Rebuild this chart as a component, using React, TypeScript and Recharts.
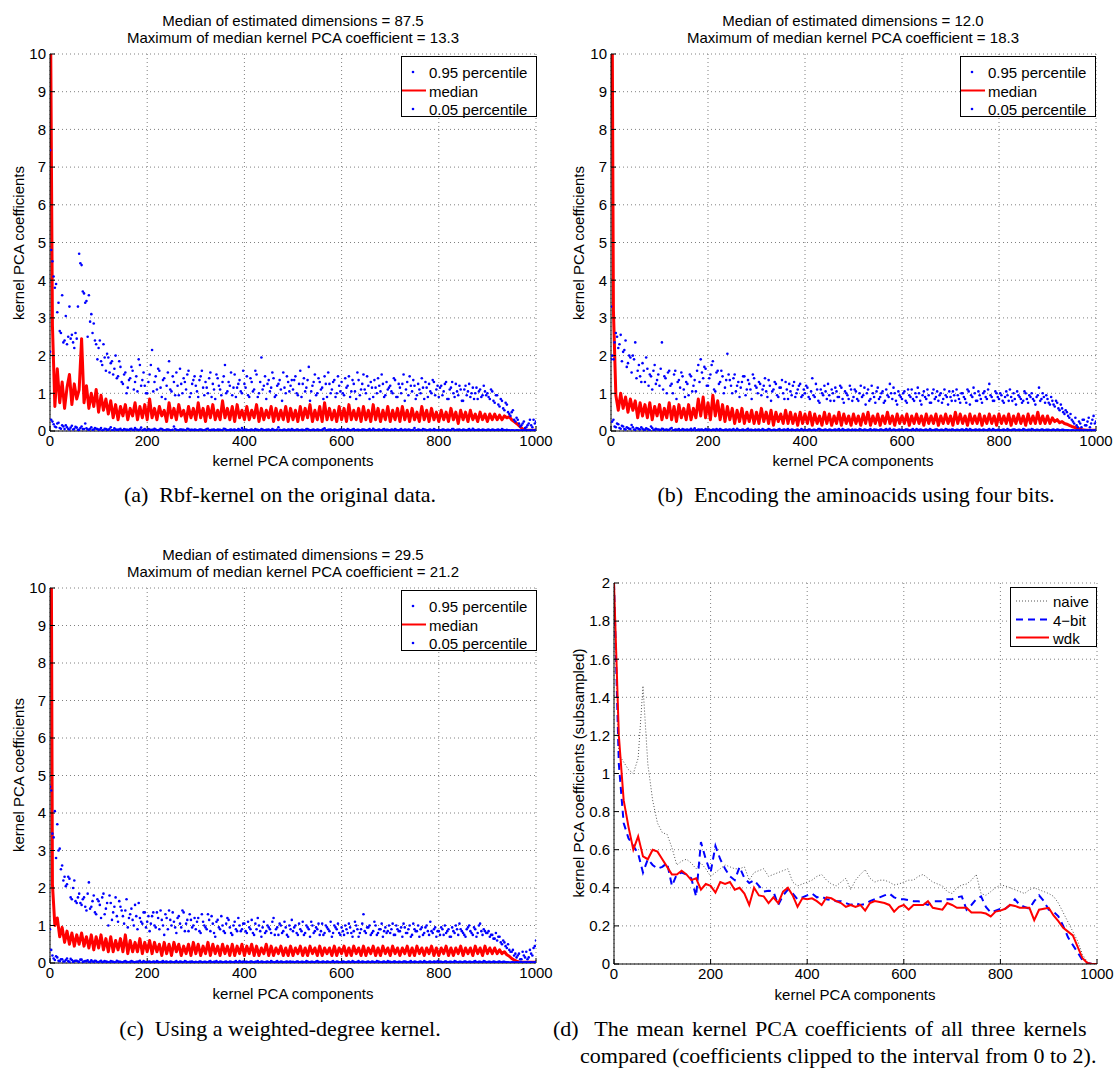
import React from 'react';
import { ComposedChart, Line, Scatter, XAxis, YAxis, CartesianGrid } from 'recharts';

const SANS = '"Liberation Sans", Arial, Helvetica, sans-serif';
const SERIF = '"Liberation Serif", "Times New Roman", Times, serif';

// ---------- axes / ticks ----------
const componentStep = 5; // spacing of the plotted samples (panels a-c)
const halfOffset = 2.5; // the "odd" sample set sits halfway between
const subStep = 10; // subsampling step of panel d
const xTicks = [0, 200, 400, 600, 800, 1000];
const yTicksCoef = [0, 1, 2, 3, 4, 5, 6, 7, 8, 9, 10];
const yTicksSub = [0, 0.2, 0.4, 0.6, 0.8, 1, 1.2, 1.4, 1.6, 1.8, 2];

// ---------- panel (a): Rbf-kernel on the original data ----------
const medA = [
  13.3, 2.8, 0.65, 1.65, 0.75, 1.3, 0.6, 1.15, 1.5, 0.7, 1.25, 0.85, 1.1, 2.45, 0.75, 1.2, 0.6, 1.0, 0.65, 1.1,
  0.5, 0.95, 0.55, 0.85, 0.45, 0.8, 0.35, 0.7, 0.3, 0.65, 0.4, 0.7, 0.3, 0.6, 0.4, 0.75, 0.3, 0.65, 0.35, 0.7,
  0.3, 0.85, 0.35, 0.6, 0.3, 0.65, 0.4, 0.55, 0.25, 0.75, 0.35, 0.6, 0.3, 0.7, 0.4, 0.55, 0.25, 0.65, 0.35, 0.6,
  0.3, 0.75, 0.35, 0.6, 0.25, 0.65, 0.35, 0.7, 0.3, 0.55, 0.3, 0.8, 0.35, 0.6, 0.3, 0.65, 0.25, 0.7, 0.35, 0.55,
  0.3, 0.65, 0.3, 0.55, 0.35, 0.7, 0.25, 0.6, 0.3, 0.55, 0.35, 0.65, 0.25, 0.6, 0.3, 0.55, 0.3, 0.65, 0.25, 0.6,
  0.3, 0.55, 0.25, 0.65, 0.3, 0.6, 0.35, 0.7, 0.25, 0.55, 0.3, 0.65, 0.25, 0.75, 0.3, 0.6, 0.3, 0.55, 0.25, 0.65,
  0.3, 0.6, 0.25, 0.7, 0.3, 0.55, 0.3, 0.6, 0.25, 0.65, 0.3, 0.55, 0.25, 0.7, 0.3, 0.6, 0.25, 0.55, 0.3, 0.65,
  0.25, 0.55, 0.3, 0.6, 0.25, 0.65, 0.3, 0.55, 0.25, 0.6, 0.3, 0.5, 0.25, 0.65, 0.3, 0.55, 0.25, 0.6, 0.3, 0.5,
  0.25, 0.55, 0.3, 0.5, 0.25, 0.6, 0.3, 0.5, 0.2, 0.55, 0.3, 0.5, 0.25, 0.55, 0.3, 0.45, 0.25, 0.5, 0.3, 0.45,
  0.25, 0.45, 0.3, 0.45, 0.3, 0.42, 0.3, 0.4, 0.35, 0.38, 0.3, 0.25, 0.2, 0.14, 0.08, 0.03, 0.02, 0.02, 0.02, 0.02,
  0.02,
];
const p95A = [
  7.45, 4.5, 3.8, 3.15, 2.65, 3.6, 2.4, 2.3, 3.3, 2.55, 2.2, 2.45, 4.7, 4.4, 3.65, 3.45, 3.6, 3.1, 2.85, 2.3,
  2.2, 1.85, 2.3, 1.6, 1.95, 1.8, 1.5, 2.0, 1.45, 1.7, 1.25, 1.55, 1.15, 1.4, 1.6, 1.3, 1.05, 1.75, 1.35, 1.2,
  1.0, 1.5, 2.15, 1.3, 1.1, 1.6, 0.9, 1.4, 1.2, 1.85, 1.05, 1.3, 1.55, 0.95, 1.25, 1.4, 1.1, 1.6, 1.0, 1.35,
  1.2, 0.9, 1.45, 1.15, 1.3, 1.0, 1.55, 1.25, 0.85, 1.4, 1.1, 1.3, 1.75, 1.05, 1.2, 0.95, 1.5, 1.15, 1.35, 1.0,
  1.25, 1.45, 0.9, 1.3, 1.1, 1.5, 1.0, 1.95, 1.2, 0.85, 1.35, 1.15, 1.4, 0.95, 1.25, 1.1, 1.55, 1.0, 1.3, 1.2,
  1.1, 1.45, 0.95, 1.6, 1.25, 1.05, 1.35, 0.8, 1.2, 1.5, 1.0, 1.3, 1.15, 1.45, 0.9, 1.25, 1.1, 1.35, 1.0, 1.2,
  1.3, 0.95, 1.15, 1.45, 1.05, 1.25, 0.85, 1.35, 1.1, 1.5, 1.0, 1.2, 1.3, 0.9, 1.15, 1.4, 1.05, 1.25, 0.95, 1.1,
  1.2, 1.0, 1.35, 0.9, 1.15, 1.25, 0.8, 1.3, 1.45, 1.05, 1.2, 0.95, 1.1, 1.4, 0.85, 1.15, 1.25, 1.0, 1.3, 1.1,
  0.9, 1.2, 1.05, 1.3, 0.85, 1.15, 1.0, 1.25, 0.95, 1.1, 0.8, 1.2, 1.05, 0.9, 1.15, 1.0, 0.85, 1.1, 0.95, 1.05,
  1.0, 0.85, 1.05, 0.75, 0.95, 0.65, 0.8, 0.55, 0.7, 0.45, 0.5, 0.3, 0.35, 0.2, 0.15, 0.25, 0.1, 0.2, 0.15, 0.3,
  0.25,
];
const p95AOdd = [
  4.8, 4.1, 3.9, 3.4, 2.6, 2.35, 3.05, 2.5, 2.45, 2.35, 2.6, 3.3, 4.45, 3.7, 3.4, 2.5, 2.9, 2.6, 2.4, 1.9,
  2.4, 1.75, 1.95, 2.05, 1.55, 1.85, 1.65, 1.4, 1.85, 1.3, 1.5, 1.0, 1.35, 1.7, 1.1, 1.45, 1.9, 1.2, 1.55, 1.0,
  1.3, 1.75, 1.05, 1.45, 1.65, 1.15, 1.35, 0.85, 1.55, 1.1, 1.45, 0.95, 1.2, 1.65, 1.0, 1.3, 1.5, 0.9, 1.25, 1.45,
  1.05, 1.35, 1.6, 0.95, 1.15, 1.4, 0.9, 1.1, 1.5, 1.2, 0.95, 1.45, 1.0, 1.3, 1.55, 1.15, 0.9, 1.25, 1.05, 1.6,
  1.15, 0.95, 1.4, 1.05, 1.6, 0.9, 1.3, 1.1, 1.45, 1.25, 1.05, 1.55, 0.9, 1.2, 1.35, 0.8, 1.15, 1.45, 1.05, 1.35,
  1.35, 1.0, 1.25, 0.9, 1.4, 1.15, 1.7, 1.05, 1.3, 0.95, 1.4, 1.1, 0.85, 1.25, 1.55, 1.0, 1.3, 0.9, 1.45, 1.05,
  1.0, 1.4, 1.2, 0.9, 1.35, 1.05, 1.55, 0.95, 1.25, 1.1, 1.45, 0.85, 1.15, 1.35, 1.0, 1.2, 1.5, 0.9, 1.3, 1.15,
  1.05, 1.4, 0.9, 1.25, 1.0, 1.5, 1.1, 0.95, 1.2, 1.35, 0.85, 1.25, 1.0, 1.15, 1.3, 0.9, 1.05, 1.35, 0.95, 1.2,
  1.15, 0.95, 1.25, 0.85, 1.1, 1.3, 0.9, 1.05, 1.2, 0.8, 1.1, 0.95, 1.25, 1.0, 0.85, 1.15, 1.05, 0.9, 1.2, 0.95,
  0.9, 1.1, 0.8, 0.95, 0.7, 0.85, 0.6, 0.75, 0.5, 0.4, 0.55, 0.25, 0.3, 0.12, 0.2, 0.08, 0.15, 0.3, 0.1, 0.2,
];
const p05A = [
  2.1, 0.25, 0.12, 0.2, 0.08, 0.15, 0.05, 0.1, 0.04, 0.14, 0.06, 0.09, 0.03, 0.12, 0.05, 0.07, 0.03, 0.1, 0.04, 0.06,
  0.03, 0.08, 0.02, 0.05, 0.03, 0.1, 0.02, 0.04, 0.03, 0.06, 0.02, 0.04, 0.03, 0.05, 0.02, 0.08, 0.03, 0.04, 0.02, 0.05,
  0.02, 0.04, 0.03, 0.06, 0.02, 0.03, 0.05, 0.02, 0.04, 0.03, 0.02, 0.12, 0.03, 0.02, 0.04, 0.03, 0.02, 0.05, 0.03, 0.02,
  0.03, 0.02, 0.04, 0.02, 0.03, 0.06, 0.02, 0.03, 0.02, 0.04, 0.03, 0.02, 0.05, 0.02, 0.03, 0.02, 0.04, 0.02, 0.03, 0.08,
  0.02, 0.03, 0.02, 0.04, 0.02, 0.03, 0.02, 0.05, 0.02, 0.03, 0.04, 0.02, 0.03, 0.02, 0.1, 0.02, 0.03, 0.02, 0.04, 0.02,
  0.03, 0.02, 0.04, 0.02, 0.03, 0.02, 0.05, 0.02, 0.03, 0.02, 0.04, 0.02, 0.03, 0.07, 0.02, 0.03, 0.02, 0.04, 0.02, 0.03,
  0.02, 0.04, 0.02, 0.03, 0.02, 0.05, 0.02, 0.03, 0.02, 0.04, 0.02, 0.03, 0.02, 0.06, 0.02, 0.03, 0.02, 0.04, 0.02, 0.03,
  0.02, 0.03, 0.05, 0.02, 0.03, 0.02, 0.04, 0.02, 0.03, 0.02, 0.08, 0.02, 0.03, 0.02, 0.04, 0.02, 0.03, 0.02, 0.05, 0.02,
  0.03, 0.02, 0.04, 0.02, 0.03, 0.02, 0.05, 0.02, 0.03, 0.02, 0.04, 0.02, 0.03, 0.02, 0.06, 0.02, 0.03, 0.02, 0.04, 0.02,
  0.03, 0.02, 0.04, 0.02, 0.03, 0.02, 0.05, 0.02, 0.03, 0.02, 0.02, 0.01, 0.02, 0.01, 0.02, 0.01, 0.02, 0.01, 0.02, 0.01,
  0.01,
];
const p05AOdd = [
  0.3, 0.18, 0.1, 0.22, 0.06, 0.12, 0.15, 0.05, 0.09, 0.04, 0.11, 0.03, 0.08, 0.05, 0.2, 0.04, 0.06, 0.03, 0.08, 0.05,
  0.04, 0.02, 0.06, 0.03, 0.05, 0.02, 0.07, 0.03, 0.04, 0.02, 0.05, 0.03, 0.02, 0.06, 0.03, 0.04, 0.02, 0.09, 0.03, 0.02,
  0.05, 0.02, 0.03, 0.04, 0.02, 0.06, 0.03, 0.02, 0.04, 0.02, 0.03, 0.05, 0.02, 0.04, 0.03, 0.02, 0.06, 0.02, 0.03, 0.04,
  0.02, 0.04, 0.03, 0.02, 0.05, 0.02, 0.03, 0.04, 0.02, 0.03, 0.02, 0.06, 0.03, 0.02, 0.04, 0.03, 0.02, 0.05, 0.02, 0.03,
  0.04, 0.02, 0.03, 0.02, 0.05, 0.03, 0.02, 0.04, 0.02, 0.03, 0.02, 0.05, 0.02, 0.04, 0.03, 0.02, 0.04, 0.02, 0.03, 0.05,
  0.02, 0.04, 0.02, 0.03, 0.02, 0.05, 0.03, 0.02, 0.04, 0.02, 0.03, 0.02, 0.05, 0.02, 0.03, 0.04, 0.02, 0.03, 0.02, 0.04,
  0.03, 0.02, 0.05, 0.02, 0.04, 0.02, 0.03, 0.02, 0.04, 0.03, 0.02, 0.05, 0.02, 0.03, 0.02, 0.04, 0.02, 0.05, 0.03, 0.02,
  0.04, 0.02, 0.03, 0.02, 0.05, 0.02, 0.03, 0.04, 0.02, 0.03, 0.02, 0.04, 0.02, 0.05, 0.03, 0.02, 0.04, 0.02, 0.03, 0.02,
  0.02, 0.04, 0.02, 0.03, 0.02, 0.05, 0.02, 0.03, 0.04, 0.02, 0.03, 0.02, 0.05, 0.02, 0.03, 0.02, 0.04, 0.02, 0.03, 0.02,
  0.04, 0.02, 0.03, 0.02, 0.04, 0.02, 0.03, 0.02, 0.02, 0.01, 0.02, 0.01, 0.02, 0.01, 0.02, 0.01, 0.01, 0.02, 0.01, 0.02,
];

// ---------- panel (b): four-bit encoding ----------
const medB = [
  18.3, 3.2, 0.95, 0.55, 1.0, 0.6, 0.9, 0.5, 0.85, 0.55, 0.8, 0.35, 0.75, 0.4, 0.7, 0.35, 0.75, 0.3, 0.65, 0.4,
  0.7, 0.3, 0.6, 0.35, 0.75, 0.3, 0.65, 0.25, 0.7, 0.35, 0.6, 0.3, 0.7, 0.3, 0.6, 0.35, 0.85, 0.4, 0.9, 0.35,
  0.75, 0.3, 0.95, 0.4, 0.8, 0.3, 0.7, 0.25, 0.65, 0.3, 0.6, 0.2, 0.55, 0.25, 0.6, 0.2, 0.5, 0.25, 0.55, 0.2,
  0.5, 0.2, 0.6, 0.25, 0.5, 0.2, 0.55, 0.15, 0.5, 0.25, 0.45, 0.2, 0.55, 0.2, 0.5, 0.2, 0.45, 0.15, 0.5, 0.2,
  0.45, 0.2, 0.5, 0.15, 0.45, 0.2, 0.4, 0.15, 0.5, 0.2, 0.45, 0.15, 0.4, 0.2, 0.5, 0.15, 0.45, 0.2, 0.4, 0.15,
  0.45, 0.2, 0.4, 0.15, 0.45, 0.2, 0.5, 0.15, 0.4, 0.2, 0.45, 0.15, 0.4, 0.2, 0.5, 0.2, 0.4, 0.15, 0.45, 0.2,
  0.4, 0.2, 0.45, 0.15, 0.4, 0.2, 0.45, 0.2, 0.4, 0.15, 0.45, 0.2, 0.4, 0.2, 0.45, 0.15, 0.4, 0.2, 0.45, 0.2,
  0.4, 0.15, 0.5, 0.2, 0.45, 0.2, 0.4, 0.15, 0.45, 0.2, 0.4, 0.2, 0.45, 0.15, 0.4, 0.2, 0.45, 0.2, 0.4, 0.15,
  0.45, 0.2, 0.4, 0.2, 0.45, 0.15, 0.4, 0.2, 0.45, 0.2, 0.4, 0.15, 0.45, 0.2, 0.4, 0.2, 0.5, 0.2, 0.4, 0.2,
  0.4, 0.2, 0.35, 0.25, 0.3, 0.22, 0.25, 0.2, 0.18, 0.15, 0.12, 0.1, 0.08, 0.06, 0.04, 0.03, 0.02, 0.02, 0.02, 0.02,
  0.02,
];
const p95B = [
  3.3, 1.9, 2.6, 2.2, 2.55, 2.1, 2.4, 1.8, 1.95, 2.0, 2.35, 1.6, 1.45, 1.8, 1.3, 1.65, 1.5, 1.1, 1.75, 1.35,
  1.2, 2.35, 1.45, 1.0, 1.6, 1.25, 1.5, 0.85, 1.35, 1.55, 1.1, 1.3, 0.95, 1.45, 1.2, 1.05, 1.75, 1.9, 1.4, 1.65,
  1.2, 1.5, 1.85, 1.05, 1.6, 1.3, 1.45, 1.15, 2.05, 1.35, 1.0, 1.5, 1.2, 0.9, 1.3, 1.45, 1.1, 1.25, 0.85, 1.4,
  1.15, 1.3, 0.95, 1.2, 1.05, 1.35, 0.8, 1.1, 1.25, 0.9, 1.15, 1.0, 1.3, 0.85, 1.05, 1.2, 0.9, 1.1, 1.25, 0.95,
  1.0, 1.15, 0.85, 1.4, 0.9, 1.1, 0.75, 1.0, 1.2, 0.85, 0.95, 1.1, 0.8, 1.05, 0.9, 1.15, 0.75, 1.0, 0.85, 1.1,
  0.9, 1.05, 0.8, 1.2, 0.95, 0.7, 1.1, 0.85, 1.0, 0.75, 1.15, 0.9, 1.05, 0.8, 0.95, 1.25, 0.85, 1.0, 0.7, 0.95,
  0.85, 1.05, 0.75, 0.95, 1.1, 0.8, 0.9, 1.0, 0.7, 1.05, 0.85, 0.95, 0.75, 1.1, 0.9, 0.8, 1.0, 0.85, 0.95, 0.7,
  0.9, 1.05, 0.8, 0.95, 0.75, 1.0, 0.85, 1.1, 0.7, 0.9, 1.0, 0.8, 0.95, 0.75, 1.05, 0.85, 1.25, 0.9, 0.8, 1.0,
  0.85, 0.95, 0.75, 1.05, 0.8, 0.9, 1.0, 0.7, 0.95, 0.85, 0.8, 1.0, 0.75, 0.9, 0.85, 0.7, 0.95, 0.8, 1.0, 0.75,
  0.85, 0.7, 0.8, 0.65, 0.75, 0.55, 0.6, 0.45, 0.5, 0.35, 0.3, 0.2, 0.15, 0.25, 0.1, 0.3, 0.15, 0.35, 0.2, 0.4,
  0.25,
];
const p95BOdd = [
  2.0, 2.35, 2.5, 2.3, 1.85, 2.15, 1.7, 2.0, 1.55, 1.9, 1.4, 1.75, 1.3, 1.6, 1.95, 1.2, 1.45, 1.6, 1.25, 1.5,
  1.65, 1.1, 1.4, 1.55, 1.2, 1.0, 1.6, 1.3, 1.15, 1.45, 0.9, 1.25, 1.5, 1.05, 1.35, 1.6, 1.3, 1.55, 1.7, 1.2,
  1.4, 1.75, 1.1, 1.55, 1.25, 1.6, 1.0, 1.35, 1.5, 1.2, 1.4, 1.05, 1.3, 1.15, 1.45, 0.95, 1.35, 1.1, 1.5, 1.2,
  1.0, 1.25, 1.1, 1.4, 0.9, 1.2, 1.05, 1.3, 0.95, 1.15, 1.35, 0.85, 1.1, 1.25, 0.95, 1.3, 1.0, 1.2, 0.9, 1.1,
  1.2, 0.9, 1.05, 0.95, 1.25, 0.8, 1.1, 0.95, 1.05, 1.25, 0.8, 1.0, 1.15, 0.9, 1.2, 0.85, 1.05, 0.95, 1.2, 0.8,
  1.1, 0.85, 1.0, 0.9, 1.15, 1.0, 0.8, 1.2, 0.9, 1.05, 0.85, 1.0, 0.75, 1.1, 0.9, 1.0, 1.15, 0.8, 1.05, 0.9,
  1.0, 0.8, 1.1, 0.9, 0.85, 1.0, 1.15, 0.8, 0.95, 0.9, 1.1, 0.75, 1.0, 0.85, 1.05, 0.95, 0.75, 1.1, 0.9, 1.05,
  0.8, 0.95, 1.1, 0.85, 1.0, 0.9, 0.75, 1.05, 0.95, 1.15, 0.8, 1.05, 0.85, 1.0, 0.9, 1.1, 0.95, 0.8, 1.05, 0.9,
  1.0, 0.8, 0.9, 0.95, 1.1, 0.8, 0.85, 1.05, 0.9, 0.75, 1.05, 0.85, 0.95, 1.0, 0.8, 0.9, 1.15, 0.85, 0.9, 0.95,
  0.75, 0.9, 0.7, 0.8, 0.6, 0.7, 0.5, 0.55, 0.4, 0.45, 0.25, 0.35, 0.1, 0.2, 0.3, 0.15, 0.25, 0.1, 0.3, 0.2,
];
const p05B = [
  1.9, 0.3, 0.1, 0.18, 0.06, 0.12, 0.04, 0.08, 0.05, 0.1, 0.03, 0.07, 0.04, 0.06, 0.03, 0.05, 0.02, 0.08, 0.03, 0.04,
  0.03, 0.06, 0.02, 0.04, 0.03, 0.08, 0.02, 0.03, 0.05, 0.02, 0.04, 0.03, 0.02, 0.06, 0.03, 0.02, 0.04, 0.03, 0.02, 0.05,
  0.03, 0.02, 0.04, 0.02, 0.03, 0.05, 0.02, 0.03, 0.02, 0.04, 0.03, 0.02, 0.06, 0.02, 0.03, 0.02, 0.04, 0.02, 0.03, 0.02,
  0.02, 0.04, 0.02, 0.03, 0.02, 0.05, 0.02, 0.03, 0.02, 0.04, 0.02, 0.03, 0.02, 0.05, 0.02, 0.03, 0.02, 0.04, 0.02, 0.03,
  0.03, 0.02, 0.04, 0.02, 0.03, 0.02, 0.05, 0.02, 0.03, 0.02, 0.04, 0.02, 0.03, 0.02, 0.05, 0.02, 0.03, 0.02, 0.04, 0.02,
  0.02, 0.03, 0.02, 0.04, 0.02, 0.03, 0.02, 0.05, 0.02, 0.03, 0.02, 0.04, 0.02, 0.03, 0.02, 0.06, 0.02, 0.03, 0.02, 0.04,
  0.03, 0.02, 0.04, 0.02, 0.03, 0.02, 0.05, 0.02, 0.03, 0.02, 0.04, 0.02, 0.03, 0.02, 0.04, 0.02, 0.03, 0.02, 0.05, 0.02,
  0.02, 0.04, 0.02, 0.03, 0.02, 0.04, 0.02, 0.03, 0.05, 0.02, 0.03, 0.02, 0.04, 0.02, 0.03, 0.02, 0.05, 0.02, 0.03, 0.02,
  0.03, 0.02, 0.04, 0.02, 0.03, 0.02, 0.04, 0.02, 0.03, 0.02, 0.05, 0.02, 0.03, 0.02, 0.04, 0.02, 0.03, 0.02, 0.04, 0.02,
  0.03, 0.02, 0.03, 0.02, 0.04, 0.02, 0.03, 0.02, 0.02, 0.01, 0.02, 0.01, 0.02, 0.01, 0.02, 0.01, 0.02, 0.01, 0.02, 0.01,
  0.01,
];
const p05BOdd = [
  0.25, 0.12, 0.2, 0.08, 0.14, 0.05, 0.1, 0.06, 0.16, 0.04, 0.08, 0.05, 0.1, 0.03, 0.07, 0.04, 0.12, 0.03, 0.06, 0.04,
  0.02, 0.05, 0.03, 0.02, 0.06, 0.02, 0.04, 0.03, 0.02, 0.05, 0.02, 0.04, 0.03, 0.02, 0.07, 0.02, 0.03, 0.04, 0.02, 0.03,
  0.04, 0.02, 0.03, 0.05, 0.02, 0.03, 0.02, 0.04, 0.03, 0.02, 0.05, 0.02, 0.03, 0.02, 0.04, 0.02, 0.06, 0.03, 0.02, 0.04,
  0.03, 0.02, 0.05, 0.02, 0.03, 0.04, 0.02, 0.03, 0.02, 0.05, 0.02, 0.04, 0.03, 0.02, 0.04, 0.02, 0.03, 0.02, 0.05, 0.02,
  0.02, 0.04, 0.02, 0.03, 0.02, 0.05, 0.03, 0.02, 0.04, 0.02, 0.03, 0.02, 0.04, 0.03, 0.02, 0.05, 0.02, 0.03, 0.02, 0.04,
  0.03, 0.02, 0.05, 0.02, 0.04, 0.02, 0.03, 0.02, 0.04, 0.03, 0.02, 0.04, 0.02, 0.05, 0.03, 0.02, 0.04, 0.02, 0.03, 0.02,
  0.02, 0.04, 0.03, 0.02, 0.05, 0.02, 0.03, 0.04, 0.02, 0.03, 0.02, 0.05, 0.02, 0.03, 0.04, 0.02, 0.03, 0.02, 0.04, 0.03,
  0.04, 0.02, 0.03, 0.02, 0.04, 0.02, 0.05, 0.02, 0.03, 0.02, 0.04, 0.03, 0.02, 0.04, 0.02, 0.03, 0.02, 0.05, 0.02, 0.03,
  0.02, 0.03, 0.02, 0.05, 0.02, 0.03, 0.04, 0.02, 0.03, 0.02, 0.04, 0.02, 0.03, 0.05, 0.02, 0.03, 0.02, 0.04, 0.02, 0.03,
  0.03, 0.02, 0.04, 0.02, 0.03, 0.02, 0.03, 0.02, 0.02, 0.01, 0.02, 0.01, 0.01, 0.02, 0.01, 0.02, 0.01, 0.02, 0.01, 0.02,
];

// ---------- panel (c): weighted-degree kernel ----------
const medC = [
  21.2, 2.1, 1.0, 1.2, 0.7, 0.95, 0.55, 0.85, 0.5, 0.8, 0.45, 0.75, 0.5, 0.8, 0.45, 0.7, 0.4, 0.75, 0.35, 0.7,
  0.4, 0.75, 0.35, 0.65, 0.3, 0.7, 0.3, 0.6, 0.35, 0.65, 0.3, 0.75, 0.25, 0.6, 0.3, 0.55, 0.3, 0.65, 0.25, 0.55,
  0.3, 0.6, 0.25, 0.55, 0.3, 0.5, 0.2, 0.55, 0.25, 0.5, 0.2, 0.55, 0.3, 0.5, 0.2, 0.45, 0.25, 0.5, 0.2, 0.55,
  0.25, 0.5, 0.2, 0.45, 0.25, 0.55, 0.2, 0.5, 0.25, 0.45, 0.2, 0.5, 0.25, 0.45, 0.2, 0.5, 0.2, 0.45, 0.25, 0.5,
  0.2, 0.45, 0.25, 0.5, 0.2, 0.45, 0.2, 0.4, 0.25, 0.5, 0.2, 0.45, 0.2, 0.4, 0.25, 0.45, 0.2, 0.4, 0.2, 0.45,
  0.2, 0.4, 0.25, 0.45, 0.2, 0.4, 0.2, 0.45, 0.25, 0.4, 0.2, 0.45, 0.2, 0.4, 0.25, 0.4, 0.2, 0.45, 0.2, 0.4,
  0.25, 0.45, 0.2, 0.4, 0.2, 0.45, 0.25, 0.4, 0.2, 0.45, 0.2, 0.4, 0.25, 0.45, 0.2, 0.4, 0.2, 0.45, 0.25, 0.4,
  0.2, 0.45, 0.25, 0.4, 0.2, 0.4, 0.25, 0.45, 0.2, 0.4, 0.2, 0.45, 0.25, 0.4, 0.2, 0.4, 0.25, 0.45, 0.2, 0.4,
  0.2, 0.4, 0.25, 0.45, 0.2, 0.4, 0.2, 0.4, 0.25, 0.45, 0.2, 0.4, 0.25, 0.4, 0.2, 0.45, 0.25, 0.4, 0.2, 0.45,
  0.25, 0.4, 0.25, 0.4, 0.25, 0.35, 0.25, 0.3, 0.22, 0.18, 0.12, 0.08, 0.05, 0.03, 0.02, 0.02, 0.02, 0.02, 0.02, 0.02,
  0.02,
];
const p95C = [
  4.7, 3.45, 4.05, 3.7, 3.05, 2.6, 2.3, 2.1, 2.25, 1.7, 2.2, 1.6, 1.85, 1.55, 1.75, 1.4, 2.15, 1.5, 1.8, 1.3,
  1.65, 1.2, 1.85, 1.45, 1.0, 1.6, 1.35, 1.75, 1.1, 1.5, 1.25, 1.4, 0.95, 1.3, 1.15, 1.55, 0.9, 1.2, 1.05, 1.35,
  1.1, 0.85, 1.25, 1.0, 1.35, 0.9, 1.15, 0.75, 1.2, 1.4, 1.0, 1.1, 0.8, 1.25, 0.95, 1.35, 1.05, 0.85, 1.15, 1.0,
  0.9, 1.2, 0.8, 1.1, 0.95, 1.3, 0.85, 1.05, 0.7, 1.15, 0.9, 1.0, 0.8, 1.2, 0.95, 0.75, 1.1, 0.85, 1.0, 0.9,
  1.05, 0.8, 0.95, 1.15, 0.75, 0.9, 1.0, 0.7, 1.1, 0.85, 0.95, 0.8, 1.2, 0.9, 0.75, 1.0, 0.85, 0.95, 0.7, 0.9,
  0.85, 1.0, 0.75, 0.9, 1.1, 0.8, 0.95, 0.7, 1.0, 0.85, 0.9, 0.75, 1.05, 0.8, 0.95, 0.85, 0.7, 1.0, 0.9, 0.8,
  0.95, 0.75, 0.9, 1.05, 0.8, 0.85, 1.0, 0.7, 0.9, 1.3, 0.8, 0.95, 0.75, 0.85, 1.0, 0.8, 0.9, 0.7, 0.95, 0.85,
  0.8, 1.05, 0.75, 0.9, 0.85, 0.7, 0.95, 0.8, 1.0, 0.75, 0.9, 0.85, 0.7, 0.95, 0.8, 1.0, 0.75, 0.85, 0.9, 0.7,
  0.85, 0.95, 0.75, 0.8, 0.9, 0.7, 0.85, 1.0, 0.75, 0.9, 0.8, 0.7, 0.95, 0.85, 0.75, 0.9, 0.8, 1.05, 0.75, 0.85,
  0.8, 0.7, 0.75, 0.65, 0.6, 0.7, 0.5, 0.55, 0.4, 0.35, 0.3, 0.2, 0.15, 0.25, 0.1, 0.2, 0.3, 0.15, 0.25, 0.4,
  0.6,
];
const p95COdd = [
  4.6, 3.35, 2.8, 3.0, 2.5, 2.2, 2.05, 2.3, 1.75, 2.0, 1.65, 1.75, 1.6, 1.7, 1.5, 1.85, 1.45, 1.65, 1.35, 1.7,
  1.55, 1.75, 1.3, 1.6, 1.8, 1.15, 1.5, 1.25, 1.65, 1.4, 1.05, 1.7, 1.2, 1.45, 1.0, 1.25, 1.6, 1.1, 1.35, 0.95,
  1.25, 1.05, 1.35, 0.95, 1.2, 1.4, 1.0, 1.3, 0.9, 1.15, 1.35, 0.95, 1.2, 1.05, 1.4, 0.85, 1.15, 1.3, 0.95, 1.2,
  1.1, 0.85, 1.3, 1.0, 0.9, 1.15, 1.25, 0.8, 1.1, 0.95, 1.25, 0.85, 1.05, 1.15, 0.8, 1.0, 0.9, 1.2, 0.85, 1.05,
  0.85, 1.1, 0.9, 0.8, 1.05, 1.2, 0.85, 0.95, 0.8, 1.0, 0.9, 1.1, 0.75, 0.95, 1.05, 0.8, 1.1, 0.75, 1.0, 1.15,
  0.95, 0.8, 1.05, 0.85, 0.75, 1.0, 0.9, 1.1, 0.8, 0.95, 1.05, 0.85, 0.75, 1.0, 0.9, 1.1, 0.8, 0.95, 1.05, 0.75,
  0.85, 1.0, 0.8, 0.95, 0.7, 1.1, 0.9, 0.8, 1.05, 0.85, 0.95, 1.0, 0.8, 1.1, 0.75, 0.9, 1.05, 0.85, 0.8, 1.0,
  0.9, 0.75, 1.0, 0.85, 0.95, 1.05, 0.8, 0.9, 0.7, 1.05, 0.85, 1.0, 0.9, 0.75, 0.95, 0.85, 1.1, 0.8, 0.95, 0.85,
  0.75, 0.9, 1.0, 0.85, 0.7, 0.95, 0.8, 0.9, 1.05, 0.85, 0.75, 0.9, 1.0, 0.8, 0.95, 0.7, 1.0, 0.85, 0.9, 0.8,
  0.85, 0.75, 0.65, 0.8, 0.7, 0.55, 0.6, 0.45, 0.5, 0.3, 0.35, 0.25, 0.2, 0.1, 0.3, 0.15, 0.1, 0.35, 0.2, 0.45,
];
const p05C = [
  0.9, 0.2, 0.08, 0.15, 0.05, 0.1, 0.04, 0.12, 0.03, 0.08, 0.05, 0.06, 0.03, 0.09, 0.04, 0.05, 0.02, 0.07, 0.03, 0.05,
  0.02, 0.06, 0.03, 0.04, 0.02, 0.05, 0.03, 0.02, 0.04, 0.03, 0.02, 0.05, 0.02, 0.03, 0.04, 0.02, 0.03, 0.06, 0.02, 0.03,
  0.02, 0.04, 0.02, 0.03, 0.05, 0.02, 0.03, 0.02, 0.04, 0.02, 0.03, 0.02, 0.05, 0.02, 0.03, 0.02, 0.04, 0.02, 0.03, 0.02,
  0.03, 0.02, 0.04, 0.02, 0.03, 0.02, 0.05, 0.02, 0.03, 0.02, 0.04, 0.02, 0.03, 0.02, 0.04, 0.02, 0.03, 0.02, 0.05, 0.02,
  0.02, 0.03, 0.02, 0.04, 0.02, 0.03, 0.02, 0.04, 0.02, 0.03, 0.02, 0.05, 0.02, 0.03, 0.02, 0.04, 0.02, 0.03, 0.02, 0.04,
  0.03, 0.02, 0.04, 0.02, 0.03, 0.02, 0.04, 0.02, 0.03, 0.02, 0.05, 0.02, 0.03, 0.02, 0.04, 0.02, 0.03, 0.02, 0.04, 0.02,
  0.02, 0.03, 0.02, 0.04, 0.02, 0.03, 0.02, 0.05, 0.02, 0.03, 0.02, 0.04, 0.02, 0.03, 0.02, 0.04, 0.02, 0.03, 0.02, 0.05,
  0.03, 0.02, 0.04, 0.02, 0.03, 0.02, 0.04, 0.02, 0.03, 0.02, 0.04, 0.02, 0.03, 0.02, 0.05, 0.02, 0.03, 0.02, 0.04, 0.02,
  0.02, 0.03, 0.02, 0.04, 0.02, 0.03, 0.02, 0.04, 0.02, 0.03, 0.02, 0.04, 0.02, 0.03, 0.02, 0.05, 0.02, 0.03, 0.02, 0.04,
  0.02, 0.03, 0.02, 0.03, 0.02, 0.04, 0.02, 0.03, 0.02, 0.01, 0.02, 0.01, 0.02, 0.01, 0.02, 0.01, 0.02, 0.01, 0.02, 0.01,
  0.01,
];
const p05COdd = [
  0.35, 0.12, 0.18, 0.06, 0.1, 0.04, 0.08, 0.05, 0.11, 0.03, 0.06, 0.04, 0.09, 0.03, 0.05, 0.07, 0.03, 0.04, 0.06, 0.02,
  0.04, 0.02, 0.05, 0.03, 0.02, 0.04, 0.02, 0.06, 0.03, 0.02, 0.04, 0.03, 0.02, 0.05, 0.02, 0.03, 0.04, 0.02, 0.05, 0.02,
  0.03, 0.02, 0.04, 0.02, 0.03, 0.02, 0.05, 0.03, 0.02, 0.04, 0.02, 0.03, 0.02, 0.04, 0.02, 0.05, 0.02, 0.03, 0.04, 0.02,
  0.02, 0.04, 0.02, 0.03, 0.02, 0.04, 0.02, 0.03, 0.05, 0.02, 0.03, 0.02, 0.04, 0.02, 0.03, 0.02, 0.05, 0.02, 0.03, 0.04,
  0.03, 0.02, 0.04, 0.02, 0.03, 0.05, 0.02, 0.03, 0.02, 0.04, 0.02, 0.03, 0.02, 0.05, 0.02, 0.03, 0.02, 0.04, 0.03, 0.02,
  0.02, 0.04, 0.02, 0.03, 0.02, 0.05, 0.02, 0.03, 0.02, 0.04, 0.03, 0.02, 0.04, 0.02, 0.03, 0.02, 0.05, 0.02, 0.03, 0.02,
  0.04, 0.02, 0.03, 0.02, 0.05, 0.02, 0.03, 0.02, 0.04, 0.02, 0.03, 0.02, 0.04, 0.02, 0.05, 0.03, 0.02, 0.04, 0.02, 0.03,
  0.02, 0.04, 0.02, 0.03, 0.02, 0.04, 0.03, 0.02, 0.05, 0.02, 0.03, 0.02, 0.04, 0.02, 0.03, 0.02, 0.04, 0.02, 0.03, 0.05,
  0.03, 0.02, 0.04, 0.02, 0.03, 0.02, 0.05, 0.02, 0.03, 0.02, 0.04, 0.02, 0.03, 0.02, 0.04, 0.02, 0.03, 0.02, 0.05, 0.02,
  0.03, 0.02, 0.04, 0.02, 0.03, 0.02, 0.03, 0.02, 0.02, 0.01, 0.02, 0.01, 0.01, 0.02, 0.01, 0.02, 0.01, 0.02, 0.01, 0.02,
];

// ---------- panel (d): mean coefficients (subsampled, clipped to [0,2]) ----------
const naiveD = [
  2.0, 1.1, 1.06, 1.02, 1.0, 1.08, 1.46, 1.05, 0.86, 0.74,
  0.69, 0.68, 0.61, 0.52, 0.54, 0.55, 0.53, 0.5, 0.53, 0.5,
  0.46, 0.48, 0.5, 0.52, 0.51, 0.5, 0.5, 0.51, 0.44, 0.48,
  0.49, 0.5, 0.46, 0.47, 0.48, 0.49, 0.5, 0.43, 0.41, 0.42,
  0.43, 0.44, 0.46, 0.47, 0.44, 0.42, 0.41, 0.43, 0.45, 0.39,
  0.44, 0.47, 0.495, 0.45, 0.43, 0.44, 0.44, 0.43, 0.415, 0.42,
  0.43, 0.44, 0.44, 0.46, 0.47, 0.45, 0.43, 0.42, 0.41, 0.38,
  0.37, 0.4, 0.415, 0.42, 0.44, 0.47, 0.37, 0.36, 0.38, 0.4,
  0.415, 0.41, 0.4, 0.39, 0.38, 0.37, 0.39, 0.4, 0.39, 0.38,
  0.37, 0.355, 0.32, 0.27, 0.22, 0.17, 0.12, 0.05, 0.01, 0.0,
  0.0,
];
const fourBitD = [
  2.0, 1.05, 0.74, 0.66, 0.62, 0.58, 0.48, 0.55, 0.52, 0.5,
  0.51, 0.53, 0.41, 0.47, 0.48, 0.47, 0.45, 0.355, 0.64, 0.55,
  0.48, 0.62, 0.55, 0.5, 0.46, 0.44, 0.51, 0.45, 0.425, 0.44,
  0.41, 0.38, 0.385, 0.38, 0.31, 0.36, 0.39, 0.37, 0.34, 0.35,
  0.36, 0.37, 0.35, 0.355, 0.34, 0.335, 0.33, 0.33, 0.32, 0.31,
  0.32, 0.31, 0.315, 0.33, 0.34, 0.35, 0.36, 0.37, 0.35, 0.34,
  0.34, 0.335, 0.33, 0.33, 0.32, 0.31, 0.33, 0.33, 0.33, 0.34,
  0.34, 0.35, 0.355, 0.285, 0.31, 0.34, 0.355, 0.3, 0.27, 0.28,
  0.29, 0.29, 0.31, 0.34, 0.31, 0.3, 0.29, 0.33, 0.36, 0.33,
  0.285, 0.275, 0.25, 0.2, 0.14, 0.1, 0.06, 0.02, 0.005, 0.0,
  0.0,
];
const wdkD = [
  2.0, 1.2, 0.86, 0.72, 0.6, 0.67, 0.565, 0.55, 0.6, 0.59,
  0.55, 0.51, 0.47, 0.47, 0.49, 0.47, 0.44, 0.45, 0.39, 0.42,
  0.41, 0.375, 0.43, 0.42, 0.43, 0.39, 0.4, 0.37, 0.31, 0.4,
  0.36, 0.355, 0.32, 0.35, 0.32, 0.38, 0.4, 0.36, 0.3, 0.345,
  0.34, 0.345, 0.33, 0.31, 0.35, 0.345, 0.33, 0.32, 0.3, 0.31,
  0.3, 0.31, 0.28, 0.32, 0.33, 0.325, 0.32, 0.31, 0.275, 0.3,
  0.31, 0.285, 0.31, 0.31, 0.31, 0.33, 0.295, 0.29, 0.285, 0.32,
  0.31, 0.295, 0.295, 0.295, 0.27, 0.27, 0.27, 0.265, 0.25, 0.275,
  0.28, 0.29, 0.31, 0.305, 0.295, 0.295, 0.295, 0.23, 0.285, 0.29,
  0.295, 0.255, 0.225, 0.19, 0.17, 0.15, 0.09, 0.03, 0.005, 0.0,
  0.0,
];

const titlesA = ['Median of estimated dimensions = 87.5', 'Maximum of median kernel PCA coefficient = 13.3'];
const titlesB = ['Median of estimated dimensions = 12.0', 'Maximum of median kernel PCA coefficient = 18.3'];
const titlesC = ['Median of estimated dimensions = 29.5', 'Maximum of median kernel PCA coefficient = 21.2'];

// ---------- helpers ----------
const toPoints = (vals: number[], step: number, offset = 0) => vals.map((y, i) => ({ x: offset + i * step, y }));
const merged = (even: number[], odd: number[]) =>
  [...toPoints(even, componentStep), ...toPoints(odd, componentStep, halfOffset)];

const BlueDot = (props: any) => {
  const { cx, cy } = props;
  if (cx == null || cy == null || isNaN(cx) || isNaN(cy)) return null;
  return <circle cx={cx} cy={cy} r={1.3} fill="#0000ff" />;
};

const tickStyle = { fontSize: 15, fill: '#000', fontFamily: SANS };
const blank = () => '';

function frameAxes(yDomain: [number, number], yTicks: number[], yWidth: number) {
  return [
    <CartesianGrid key="g" xAxisId="b" yAxisId="l" stroke="#808080" strokeDasharray="1 3" strokeWidth={1} />,
    <XAxis key="xb" xAxisId="b" type="number" dataKey="x" domain={[0, 1000]} ticks={xTicks} interval={0}
      orientation="bottom" height={25} tickSize={-5} tickMargin={9} tick={tickStyle} stroke="#000"
      axisLine={{ stroke: '#000', strokeWidth: 1 }} tickLine={{ stroke: '#000' }} allowDataOverflow />,
    <XAxis key="xt" xAxisId="t" type="number" dataKey="x" domain={[0, 1000]} ticks={xTicks} interval={0}
      orientation="top" height={0} tickSize={-5} tickFormatter={blank} stroke="#000"
      axisLine={{ stroke: '#000', strokeWidth: 1 }} tickLine={{ stroke: '#000' }} allowDataOverflow />,
    <YAxis key="yl" yAxisId="l" type="number" domain={yDomain} ticks={yTicks} interval={0}
      orientation="left" width={yWidth} tickSize={-5} tickMargin={9} tick={tickStyle} stroke="#000"
      axisLine={{ stroke: '#000', strokeWidth: 1 }} tickLine={{ stroke: '#000' }} allowDataOverflow />,
    <YAxis key="yr" yAxisId="r" type="number" domain={yDomain} ticks={yTicks} interval={0}
      orientation="right" width={0} tickSize={-5} tickFormatter={blank} stroke="#000"
      axisLine={{ stroke: '#000', strokeWidth: 1 }} tickLine={{ stroke: '#000' }} allowDataOverflow />,
  ];
}

function PercentilePanel(props: {
  left: number; top: number; width: number; height: number; mTop: number; mRight: number;
  p95: number[]; p95Odd: number[]; med: number[]; p05: number[]; p05Odd: number[];
}) {
  const { left, top, width, height, mTop, mRight, p95, p95Odd, med, p05, p05Odd } = props;
  return (
    <div style={{ position: 'absolute', left, top }}>
      <ComposedChart width={width} height={height} margin={{ top: mTop, right: mRight, bottom: 24, left: 0 }}>
        {frameAxes([0, 10], yTicksCoef, 50)}
        <Scatter xAxisId="b" yAxisId="l" data={merged(p95, p95Odd)} dataKey="y" shape={BlueDot}
          isAnimationActive={false} />
        <Line xAxisId="b" yAxisId="l" data={toPoints(med, componentStep)} dataKey="y" type="linear" stroke="#ff0000"
          strokeWidth={3} strokeLinejoin="round" dot={false} activeDot={false} isAnimationActive={false} />
        <Scatter xAxisId="b" yAxisId="l" data={merged(p05, p05Odd)} dataKey="y" shape={BlueDot}
          isAnimationActive={false} />
      </ComposedChart>
    </div>
  );
}

function MeanPanel() {
  return (
    <div style={{ position: 'absolute', left: 561, top: 534 }}>
      <ComposedChart width={553} height={479} margin={{ top: 49, right: 17, bottom: 24, left: 0 }}>
        {frameAxes([0, 2], yTicksSub, 53)}
        <Line xAxisId="b" yAxisId="l" data={toPoints(naiveD, subStep)} dataKey="y" type="linear" stroke="#555555"
          strokeWidth={1} strokeDasharray="1 2" dot={false} activeDot={false} isAnimationActive={false} />
        <Line xAxisId="b" yAxisId="l" data={toPoints(fourBitD, subStep)} dataKey="y" type="linear" stroke="#0000ff"
          strokeWidth={2} strokeDasharray="7 5" dot={false} activeDot={false} isAnimationActive={false} />
        <Line xAxisId="b" yAxisId="l" data={toPoints(wdkD, subStep)} dataKey="y" type="linear" stroke="#ff0000"
          strokeWidth={2} dot={false} activeDot={false} isAnimationActive={false} />
      </ComposedChart>
    </div>
  );
}

const Txt = (p: { x: number; y: number; children: React.ReactNode; size?: number; rotate?: boolean; family?: string }) => (
  <div style={{
    position: 'absolute', left: p.x, top: p.y, whiteSpace: 'pre', lineHeight: 1,
    fontSize: p.size ?? 15, fontFamily: p.family ?? SANS, color: '#000',
    transform: `translate(-50%, -50%)${p.rotate ? ' rotate(-90deg)' : ''}`,
  }}>{p.children}</div>
);

const LeftTxt = (p: { x: number; y: number; children: React.ReactNode; size?: number; family?: string; wordSpacing?: number }) => (
  <div style={{
    position: 'absolute', left: p.x, top: p.y, whiteSpace: 'pre', lineHeight: 1,
    fontSize: p.size ?? 15, fontFamily: p.family ?? SANS, color: '#000', transform: 'translateY(-50%)',
    wordSpacing: p.wordSpacing ?? 0,
  }}>{p.children}</div>
);

function PercentileLegend({ left, top }: { left: number; top: number }) {
  const rows = [15, 33.5, 52];
  return (
    <div style={{ position: 'absolute', left, top, width: 136, height: 61, boxSizing: 'border-box',
      border: '1px solid #000', background: '#fff' }}>
      <svg width={134} height={59} style={{ position: 'absolute', left: 0, top: 0 }}>
        <circle cx={11} cy={rows[0]} r={1.3} fill="#0000ff" />
        <line x1={0} x2={24} y1={rows[1]} y2={rows[1]} stroke="#ff0000" strokeWidth={2} />
        <circle cx={11} cy={rows[2]} r={1.3} fill="#0000ff" />
      </svg>
      <LeftTxt x={27} y={rows[0]}>0.95 percentile</LeftTxt>
      <LeftTxt x={27} y={rows[1]}>median</LeftTxt>
      <LeftTxt x={27} y={rows[2]}>0.05 percentile</LeftTxt>
    </div>
  );
}

function MeanLegend() {
  const rows = [13, 31.5, 49.5];
  return (
    <div style={{ position: 'absolute', left: 1010, top: 587, width: 87, height: 60, boxSizing: 'border-box',
      border: '1px solid #000', background: '#fff' }}>
      <svg width={85} height={58} style={{ position: 'absolute', left: 0, top: 0 }}>
        <line x1={5} x2={38} y1={rows[0]} y2={rows[0]} stroke="#555555" strokeWidth={1} strokeDasharray="1 2" />
        <line x1={5} x2={38} y1={rows[1]} y2={rows[1]} stroke="#0000ff" strokeWidth={2} strokeDasharray="7 5" />
        <line x1={5} x2={38} y1={rows[2]} y2={rows[2]} stroke="#ff0000" strokeWidth={2} />
      </svg>
      <LeftTxt x={42} y={rows[0]}>naive</LeftTxt>
      <LeftTxt x={42} y={rows[1]}>4−bit</LeftTxt>
      <LeftTxt x={42} y={rows[2]}>wdk</LeftTxt>
    </div>
  );
}

export default function App() {
  const capSize = 22;
  return (
    <div style={{ position: 'absolute', left: 0, top: 0, width: 1114, height: 1071, background: '#fff', overflow: 'hidden' }}>
      <PercentilePanel left={0} top={0} width={560} height={480} mTop={54} mRight={24}
        p95={p95A} p95Odd={p95AOdd} med={medA} p05={p05A} p05Odd={p05AOdd} />
      <PercentilePanel left={561} top={0} width={553} height={480} mTop={54} mRight={18}
        p95={p95B} p95Odd={p95BOdd} med={medB} p05={p05B} p05Odd={p05BOdd} />
      <PercentilePanel left={0} top={534} width={560} height={478} mTop={54} mRight={24}
        p95={p95C} p95Odd={p95COdd} med={medC} p05={p05C} p05Odd={p05COdd} />
      <MeanPanel />

      <PercentileLegend left={401} top={56} />
      <PercentileLegend left={960} top={56} />
      <PercentileLegend left={401} top={590} />
      <MeanLegend />

      <Txt x={293} y={20}>{titlesA[0]}</Txt>
      <Txt x={293} y={37}>{titlesA[1]}</Txt>
      <Txt x={853} y={20}>{titlesB[0]}</Txt>
      <Txt x={853} y={37}>{titlesB[1]}</Txt>
      <Txt x={293} y={554}>{titlesC[0]}</Txt>
      <Txt x={293} y={571}>{titlesC[1]}</Txt>

      <Txt x={293} y={460}>kernel PCA components</Txt>
      <Txt x={853} y={460}>kernel PCA components</Txt>
      <Txt x={293} y={993}>kernel PCA components</Txt>
      <Txt x={855} y={994}>kernel PCA components</Txt>

      <Txt x={18} y={243} rotate>kernel PCA coefficients</Txt>
      <Txt x={578} y={243} rotate>kernel PCA coefficients</Txt>
      <Txt x={18} y={775} rotate>kernel PCA coefficients</Txt>
      <Txt x={578} y={773} rotate>kernel PCA coefficients (subsampled)</Txt>

      <Txt x={280} y={495} size={capSize} family={SERIF}>{'(a)  Rbf-kernel on the original data.'}</Txt>
      <Txt x={856} y={495} size={capSize} family={SERIF}>{'(b)  Encoding the aminoacids using four bits.'}</Txt>
      <Txt x={280} y={1029} size={capSize} family={SERIF}>{'(c)  Using a weighted-degree kernel.'}</Txt>
      <LeftTxt x={553} y={1029} size={capSize} family={SERIF} wordSpacing={2.5}>{'(d)  The mean kernel PCA coefficients of all three kernels'}</LeftTxt>
      <LeftTxt x={580} y={1056} size={capSize} family={SERIF}>{'compared (coefficients clipped to the interval from 0 to 2).'}</LeftTxt>
    </div>
  );
}
